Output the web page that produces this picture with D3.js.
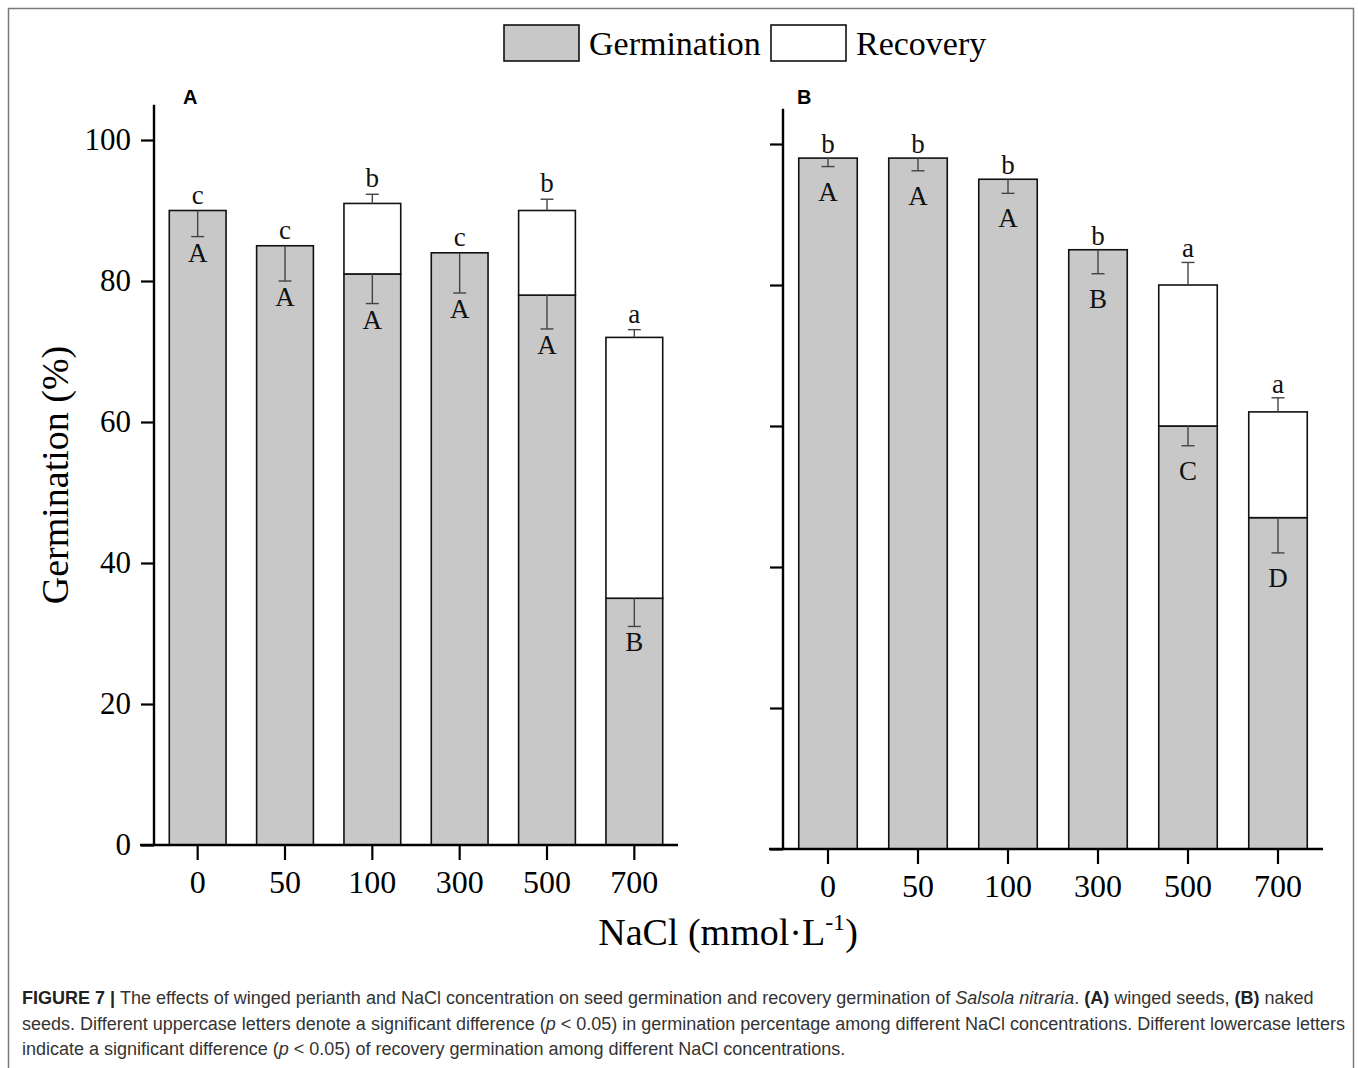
<!DOCTYPE html>
<html>
<head>
<meta charset="utf-8">
<script src="https://cdn.jsdelivr.net/npm/d3@7"></script>
<style>
  html, body { margin: 0; padding: 0; background: #fff; }
  svg { display: block; }
</style>
</head>
<body>
<svg id="fig" width="1358" height="1068"></svg>
<script>
// NaCl concentrations (mmol/L)
const concentrations = ["0", "50", "100", "300", "500", "700"];

// (A) winged seeds
const wingedGermination = [90, 85, 81, 84, 78, 35];
const wingedGermErr = [3.7, 5.0, 4.2, 5.7, 4.8, 4.0];
const wingedRecovery = [0, 0, 10, 0, 12, 37];
const wingedRecoveryErr = [0, 0, 1.3, 0, 1.6, 1.1];
const wingedUpper = ["A", "A", "A", "A", "A", "B"];
const wingedLower = ["c", "c", "b", "c", "b", "a"];

// (B) naked seeds
const nakedGermination = [98, 98, 95, 85, 60, 47];
const nakedGermErr = [1.2, 1.8, 2.0, 3.4, 2.8, 5.0];
const nakedRecovery = [0, 0, 0, 0, 20, 15];
const nakedRecoveryErr = [0, 0, 0, 0, 3.2, 2.0];
const nakedUpper = ["A", "A", "A", "B", "C", "D"];
const nakedLower = ["b", "b", "b", "b", "a", "a"];

const yTicks = [0, 20, 40, 60, 80, 100];

const SERIF = "'Liberation Serif', 'Times New Roman', serif";
const SANS = "'Liberation Sans', Arial, Helvetica, sans-serif";
const GREY = "#c8c8c8";

const svg = d3.select("#fig");

// outer frame of the figure
svg.append("rect")
  .attr("x", 8.5).attr("y", 8.5)
  .attr("width", 1345).attr("height", 1100)
  .attr("fill", "none").attr("stroke", "#7a7a7a").attr("stroke-width", 1.5);

function drawPanel(opt) {
  const g = svg.append("g");
  const x = d3.scaleBand().domain(concentrations)
    .range([opt.left, opt.right]).paddingInner(0.35).paddingOuter(0.175);
  const y = d3.scaleLinear().domain([0, 100]).range([opt.bottom, opt.top]);

  const rows = concentrations.map((c, i) => ({
    c,
    germ: opt.germ[i], germErr: opt.germErr[i],
    rec: opt.rec[i], recErr: opt.recErr[i],
    upper: opt.upper[i], lower: opt.lower[i]
  }));

  // germination part of each bar
  g.selectAll("rect.germ").data(rows).join("rect")
    .attr("class", "germ")
    .attr("x", d => x(d.c)).attr("width", x.bandwidth())
    .attr("y", d => y(d.germ)).attr("height", d => y(0) - y(d.germ))
    .attr("fill", GREY).attr("stroke", "#111").attr("stroke-width", 1.6);

  // recovery part stacked on top
  g.selectAll("rect.rec").data(rows.filter(d => d.rec > 0)).join("rect")
    .attr("class", "rec")
    .attr("x", d => x(d.c)).attr("width", x.bandwidth())
    .attr("y", d => y(d.germ + d.rec)).attr("height", d => y(d.germ) - y(d.germ + d.rec))
    .attr("fill", "#fff").attr("stroke", "#111").attr("stroke-width", 1.6);

  const cx = d => x(d.c) + x.bandwidth() / 2;
  const cap = 6.5;
  const eb = g.append("g").attr("stroke", "#444").attr("stroke-width", 1.4);

  // germination error bars hang downward inside the grey bar
  rows.forEach(d => {
    const y0 = y(d.germ), y1 = y(d.germ - d.germErr);
    eb.append("line").attr("x1", cx(d)).attr("x2", cx(d)).attr("y1", y0).attr("y2", y1);
    eb.append("line").attr("x1", cx(d) - cap).attr("x2", cx(d) + cap).attr("y1", y1).attr("y2", y1);
  });
  // recovery error bars point upward from the stacked total
  rows.filter(d => d.rec > 0).forEach(d => {
    const t = d.germ + d.rec;
    const y0 = y(t), y1 = y(t + d.recErr);
    eb.append("line").attr("x1", cx(d)).attr("x2", cx(d)).attr("y1", y0).attr("y2", y1);
    eb.append("line").attr("x1", cx(d) - cap).attr("x2", cx(d) + cap).attr("y1", y1).attr("y2", y1);
  });

  // significance letters
  g.selectAll("text.upper").data(rows).join("text")
    .attr("class", "upper")
    .attr("x", cx).attr("y", d => y(d.germ - d.germErr) + opt.upperGap)
    .attr("text-anchor", "middle")
    .attr("font-family", SERIF).attr("font-size", 27).attr("fill", "#111")
    .text(d => d.upper);
  g.selectAll("text.lower").data(rows).join("text")
    .attr("class", "lower")
    .attr("x", cx).attr("y", d => y(d.germ + d.rec + d.recErr) - opt.lowerGap)
    .attr("text-anchor", "middle")
    .attr("font-family", SERIF).attr("font-size", 27).attr("fill", "#111")
    .text(d => d.lower);

  // y axis
  const yAxis = d3.axisLeft(y).tickValues(yTicks).tickSize(13).tickPadding(10)
    .tickFormat(opt.yLabels ? d3.format("d") : () => "");
  const ya = g.append("g").attr("transform", `translate(${opt.left},0)`).call(yAxis);
  ya.select(".domain").remove();
  ya.selectAll(".tick line").attr("stroke", "#000").attr("stroke-width", 2.2);
  ya.selectAll(".tick text").attr("font-family", SERIF).attr("font-size", 31).attr("fill", "#000");
  g.append("line")
    .attr("x1", opt.left).attr("x2", opt.left)
    .attr("y1", y(0) + 1).attr("y2", y(105))
    .attr("stroke", "#000").attr("stroke-width", 2.4);

  // x axis
  const xAxis = d3.axisBottom(x).tickSize(15).tickPadding(10);
  const xa = g.append("g").attr("transform", `translate(0,${opt.bottom})`).call(xAxis);
  xa.select(".domain").remove();
  xa.selectAll(".tick line").attr("stroke", "#000").attr("stroke-width", 2.2);
  xa.selectAll(".tick text").attr("font-family", SERIF).attr("font-size", 32).attr("fill", "#000");
  g.append("line")
    .attr("x1", opt.left - 14).attr("x2", opt.right)
    .attr("y1", opt.bottom).attr("y2", opt.bottom)
    .attr("stroke", "#000").attr("stroke-width", 2.4);

  // panel letter
  g.append("text")
    .attr("x", opt.left + opt.tagDx).attr("y", 104)
    .attr("font-family", SANS).attr("font-weight", "bold").attr("font-size", 20)
    .attr("fill", "#000").text(opt.tag);
}

drawPanel({
  tag: "A", tagDx: 29, left: 154, right: 678, top: 140, bottom: 845,
  germ: wingedGermination, germErr: wingedGermErr,
  rec: wingedRecovery, recErr: wingedRecoveryErr,
  upper: wingedUpper, lower: wingedLower,
  upperGap: 25, lowerGap: 7, yLabels: true
});
drawPanel({
  tag: "B", tagDx: 14, left: 783, right: 1323, top: 144, bottom: 849,
  germ: nakedGermination, germErr: nakedGermErr,
  rec: nakedRecovery, recErr: nakedRecoveryErr,
  upper: nakedUpper, lower: nakedLower,
  upperGap: 34, lowerGap: 5, yLabels: false
});

// axis titles
svg.append("text")
  .attr("transform", "translate(68,475) rotate(-90)")
  .attr("text-anchor", "middle")
  .attr("font-family", SERIF).attr("font-size", 38).attr("fill", "#000")
  .text("Germination (%)");

const xt = svg.append("text")
  .attr("x", 728).attr("y", 945)
  .attr("text-anchor", "middle")
  .attr("font-family", SERIF).attr("font-size", 38).attr("fill", "#000");
xt.append("tspan").text("NaCl (mmol·L");
xt.append("tspan").attr("dy", -15).attr("font-size", 24).text("-1");
xt.append("tspan").attr("dy", 15).text(")");

// legend
const legendItems = [
  { label: "Germination", fill: GREY, x: 504 },
  { label: "Recovery", fill: "#fff", x: 771 }
];
const lg = svg.append("g");
lg.selectAll("rect").data(legendItems).join("rect")
  .attr("x", d => d.x).attr("y", 25).attr("width", 75).attr("height", 36)
  .attr("fill", d => d.fill).attr("stroke", "#111").attr("stroke-width", 1.6);
lg.selectAll("text").data(legendItems).join("text")
  .attr("x", d => d.x + 85).attr("y", 55)
  .attr("font-family", SERIF).attr("font-size", 34).attr("fill", "#000")
  .text(d => d.label);

// caption
const captionLines = [
  [["FIGURE 7 | ", "b"], ["The effects of winged perianth and NaCl concentration on seed germination and recovery germination of ", ""],
   ["Salsola nitraria", "i"], [". ", ""], ["(A)", "b"], [" winged seeds, ", ""], ["(B)", "b"], [" naked", ""]],
  [["seeds. Different uppercase letters denote a significant difference (", ""], ["p", "i"],
   [" < 0.05) in germination percentage among different NaCl concentrations. Different lowercase letters", ""]],
  [["indicate a significant difference (", ""], ["p", "i"], [" < 0.05) of recovery germination among different NaCl concentrations.", ""]]
];
const captionY = [1004, 1030, 1055];
captionLines.forEach((parts, i) => {
  const t = svg.append("text")
    .attr("x", 22).attr("y", captionY[i])
    .attr("font-family", SANS).attr("font-size", 18).attr("fill", "#333");
  parts.forEach(([s, st]) => {
    const sp = t.append("tspan").text(s);
    if (st === "b") sp.attr("font-weight", "bold").attr("fill", "#222");
    if (st === "i") sp.attr("font-style", "italic");
  });
});
</script>
</body>
</html>
